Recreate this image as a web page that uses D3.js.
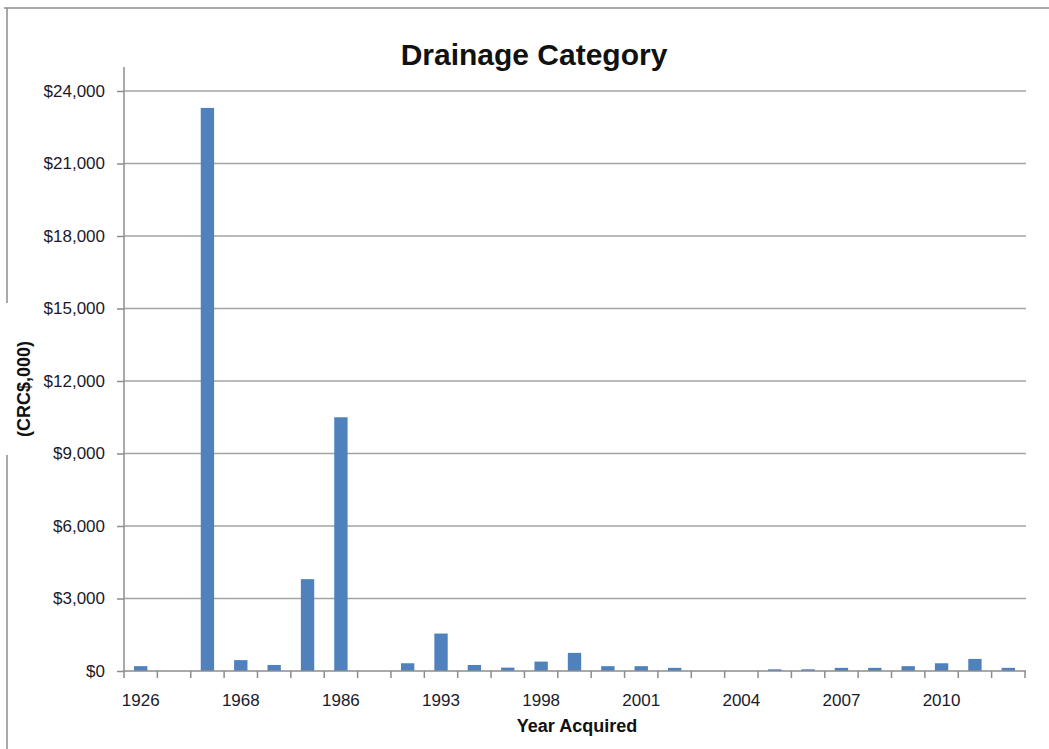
<!DOCTYPE html>
<html>
<head>
<meta charset="utf-8">
<script src="https://cdn.jsdelivr.net/npm/d3@7"></script>
<style>
  body { margin: 0; background: #fff; }
  text { font-family: "Liberation Sans", Arial, sans-serif; }
</style>
</head>
<body>
<svg id="chart" width="1049" height="749"></svg>
<script>
// years acquired (only every third one is labelled on the axis)
var years = ["1926", "1950", "1960", "1968", "1975", "1980", "1986", "1988", "1990",
             "1993", "1995", "1996", "1998", "1999", "2000", "2001", "2002", "2003",
             "2004", "2005", "2006", "2007", "2008", "2009", "2010", "2011", "2012"];
// value in CRC $,000
var values = [200, 0, 23300, 450, 250, 3800, 10500, 0, 320,
              1550, 250, 140, 390, 750, 200, 200, 130, 0,
              0, 70, 70, 130, 130, 200, 320, 500, 130];
var yTicks = [0, 3000, 6000, 9000, 12000, 15000, 18000, 21000, 24000];

var data = years.map(function(y, i) { return {year: y, value: values[i]}; });

var W = 1049, H = 749;
var margin = {top: 91, right: 24, bottom: 78, left: 124};
var width = W - margin.left - margin.right,
    height = H - margin.top - margin.bottom;

var svg = d3.select("#chart");

// outer frame (left edge is broken where the y title sits)
svg.append("line").attr("x1", 4).attr("x2", W).attr("y1", 8).attr("y2", 8)
    .attr("stroke", "#8c8c8c").attr("stroke-width", 1.5);
svg.append("line").attr("x1", 7).attr("x2", 7).attr("y1", 8).attr("y2", 303)
    .attr("stroke", "#8c8c8c").attr("stroke-width", 1.5);
svg.append("line").attr("x1", 7).attr("x2", 7).attr("y1", 455).attr("y2", H)
    .attr("stroke", "#8c8c8c").attr("stroke-width", 1.5);

var g = svg.append("g")
    .attr("transform", "translate(" + margin.left + "," + margin.top + ")");

var x = d3.scaleBand().domain(years).range([0, width]).paddingInner(0.6).paddingOuter(0.3);
var y = d3.scaleLinear().domain([0, 24000]).range([height, 0]);

// gridlines
g.selectAll(".grid").data(yTicks.filter(function(d) { return d > 0; }))
    .enter().append("line")
    .attr("x1", 0).attr("x2", width + 1)
    .attr("y1", function(d) { return y(d); })
    .attr("y2", function(d) { return y(d); })
    .attr("stroke", "#a3a3a3").attr("stroke-width", 1.5);

// bars
g.selectAll(".bar").data(data).enter().append("rect")
    .attr("x", function(d) { return x(d.year); })
    .attr("width", x.bandwidth())
    .attr("y", function(d) { return y(d.value); })
    .attr("height", function(d) { return height - y(d.value); })
    .attr("fill", "#4f81bd");

// y axis
var yAxis = g.append("g")
    .call(d3.axisLeft(y).tickValues(yTicks).tickSize(7).tickPadding(12)
        .tickFormat(function(d) { return "$" + d3.format(",")(d); }));
yAxis.select(".domain").remove();
yAxis.selectAll("line").attr("stroke", "#8c8c8c").attr("stroke-width", 1.5);
yAxis.selectAll("text").attr("font-size", 17).attr("fill", "#1a1a2a")
    .attr("font-family", "Liberation Sans, Arial, sans-serif");
g.append("line").attr("x1", 0).attr("x2", 0).attr("y1", -24).attr("y2", height)
    .attr("stroke", "#8c8c8c").attr("stroke-width", 1.5);

// x axis: labels every third year, tick marks between categories
var xAxis = g.append("g").attr("transform", "translate(0," + height + ")")
    .call(d3.axisBottom(x).tickSize(0).tickPadding(23)
        .tickValues(years.filter(function(d, i) { return i % 3 === 0; })));
xAxis.select(".domain").remove();
xAxis.selectAll("text").attr("font-size", 17).attr("fill", "#1a1a2a")
    .attr("font-family", "Liberation Sans, Arial, sans-serif");

var edge = x.step() * x.paddingInner() / 2;
var bounds = years.map(function(d) { return x(d) - edge; });
bounds.push(x(years[years.length - 1]) + x.bandwidth() + edge);
g.selectAll(".xtick").data(bounds).enter().append("line")
    .attr("x1", function(d) { return d; }).attr("x2", function(d) { return d; })
    .attr("y1", height).attr("y2", height + 7)
    .attr("stroke", "#8c8c8c").attr("stroke-width", 1.5);
g.append("line").attr("x1", 0).attr("x2", width + 1).attr("y1", height).attr("y2", height)
    .attr("stroke", "#8c8c8c").attr("stroke-width", 1.5);

// titles
svg.append("text").attr("x", 534).attr("y", 65).attr("text-anchor", "middle")
    .attr("font-size", 30).attr("font-weight", "bold").attr("fill", "#111")
    .text("Drainage Category");

svg.append("text").attr("transform", "translate(30,389) rotate(-90)")
    .attr("text-anchor", "middle").attr("font-size", 18).attr("font-weight", "bold")
    .attr("fill", "#111").text("(CRC$,000)");

svg.append("text").attr("x", 577).attr("y", 732).attr("text-anchor", "middle")
    .attr("font-size", 18).attr("font-weight", "bold").attr("fill", "#111")
    .text("Year Acquired");
</script>
</body>
</html>
